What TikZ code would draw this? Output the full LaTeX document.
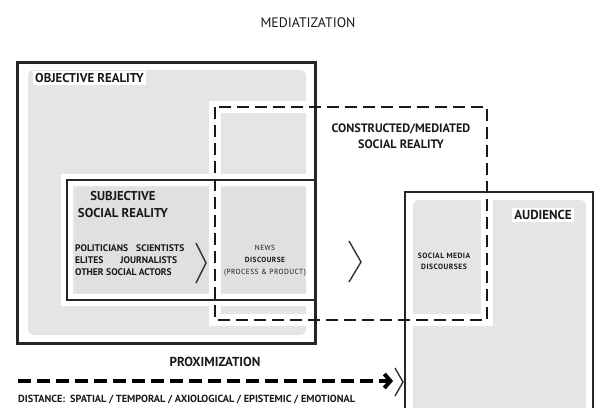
\documentclass[tikz,border=0pt]{standalone}
\usepackage{fontspec}
\setmainfont{PT Sans}
\usetikzlibrary{arrows.meta}
\definecolor{gfill}{gray}{0.90}
\definecolor{gfilldark}{gray}{0.88}
\tikzset{
  txt/.style={inner sep=0pt, text=black!90},
  boxline/.style={draw=black!85, line width=2.2pt},
  halo/.style={draw=white, line width=12pt},
  dashbox/.style={draw=black!90, line width=2.8pt, dash pattern=on 12pt off 6pt},
  chev/.style={draw=black!80, line width=1.4pt, line join=miter},
}
\begin{document}
\begin{tikzpicture}[x=1pt,y=-1pt]
\useasboundingbox (0,0) rectangle (594,407);
% coordinates
\coordinate (objNW) at (17,62);   \coordinate (objSE) at (315,343);
\coordinate (subNW) at (67,180);  \coordinate (subSE) at (315,300);
\coordinate (dshNW) at (215,107); \coordinate (dshSE) at (487,320);
\coordinate (audNW) at (405,192); \coordinate (audSE) at (593,412);
% gray fills
\fill[gfill, rounded corners=5pt] (28,70) rectangle (306,335);
\fill[gfilldark] (75,188) rectangle (306,293);
\fill[gfill, rounded corners=5pt] (413,200) rectangle (586,412);
% white halos
\draw[halo] (subNW) rectangle (subSE);
\draw[halo] (dshNW) rectangle (dshSE);
% boxes
\draw[boxline, line width=3pt] (objNW) rectangle (objSE);
\draw[boxline] (subNW) rectangle (subSE);
\draw[boxline, line width=2.4pt] (audSE) |- (audNW) -- (405,412);
\draw[dashbox] (dshNW) rectangle (dshSE);
% texts
\node[txt, font=\fontsize{13.8}{16}\selectfont] (med) at (308,23) {MEDIATIZATION};
\node[txt, font=\bfseries\fontsize{12.8}{15}\selectfont, anchor=mid west, fill=white, inner sep=2pt] (obj) at (33,80) {OBJECTIVE REALITY};
\node[txt, font=\bfseries\fontsize{12.8}{15}\selectfont, anchor=mid] (sub1) at (123,198) {SUBJECTIVE};
\node[txt, font=\bfseries\fontsize{12.8}{15}\selectfont, anchor=mid] (sub2) at (123,215) {SOCIAL REALITY};
\node[txt, font=\bfseries\fontsize{9.6}{11}\selectfont, anchor=mid west] (act1) at (75,249) {POLITICIANS\hspace{8pt}SCIENTISTS};
\node[txt, font=\bfseries\fontsize{9.6}{11}\selectfont, anchor=mid west] (act2) at (75,261) {ELITES\hspace{17pt}JOURNALISTS};
\node[txt, font=\bfseries\fontsize{9.6}{11}\selectfont, anchor=mid west] (act3) at (75,273) {OTHER SOCIAL ACTORS};
\node[txt, font=\addfontfeature{LetterSpace=6}\fontsize{7.4}{8}\selectfont, anchor=mid] (news1) at (265,248) {NEWS};
\node[txt, font=\bfseries\addfontfeature{LetterSpace=6}\fontsize{7.4}{8}\selectfont, anchor=mid] (news2) at (265,260) {DISCOURSE};
\node[txt, font=\addfontfeature{LetterSpace=6}\fontsize{7.4}{8}\selectfont, anchor=mid] (news3) at (265,272) {(PROCESS \& PRODUCT)};
\node[txt, font=\bfseries\fontsize{12.2}{14}\selectfont, anchor=mid] (con1) at (401,130) {CONSTRUCTED/MEDIATED};
\node[txt, font=\bfseries\fontsize{12.2}{14}\selectfont, anchor=mid] (con2) at (401,146) {SOCIAL REALITY};
\node[txt, font=\bfseries\fontsize{13}{15}\selectfont, anchor=mid, fill=white, inner sep=2pt] (aud) at (543,217) {AUDIENCE};
\node[txt, font=\bfseries\addfontfeature{LetterSpace=6}\fontsize{7.6}{8}\selectfont, anchor=mid] (soc1) at (444,256) {SOCIAL MEDIA};
\node[txt, font=\bfseries\addfontfeature{LetterSpace=6}\fontsize{7.6}{8}\selectfont, anchor=mid] (soc2) at (444,267) {DISCOURSES};
\node[txt, font=\bfseries\fontsize{13}{15}\selectfont, anchor=mid] (prox) at (215,364) {PROXIMIZATION};
\node[txt, font=\bfseries\fontsize{10.3}{12}\selectfont, anchor=mid west] (dist) at (18,400) {DISTANCE:\hspace{5pt}SPATIAL / TEMPORAL / AXIOLOGICAL / EPISTEMIC / EMOTIONAL};
% chevrons
\coordinate (c1a) at (196,243); \coordinate (c1b) at (206,263); \coordinate (c1c) at (196,283);
\draw[chev] (c1a) -- (c1b) -- (c1c);
\coordinate (c2a) at (349,241); \coordinate (c2b) at (361,262); \coordinate (c2c) at (349,282);
\draw[chev] (c2a) -- (c2b) -- (c2c);
\coordinate (c3a) at (395,368); \coordinate (c3b) at (403,382); \coordinate (c3c) at (395,396);
\draw[chev] (c3a) -- (c3b) -- (c3c);
% proximization arrow
\coordinate (pa) at (18,381); \coordinate (pb) at (393,381);
\draw[line width=4pt, dash pattern=on 13pt off 6pt, -{Straight Barb[length=6pt,width=14pt]}] (pa) -- (pb);
\end{tikzpicture}
\end{document}
